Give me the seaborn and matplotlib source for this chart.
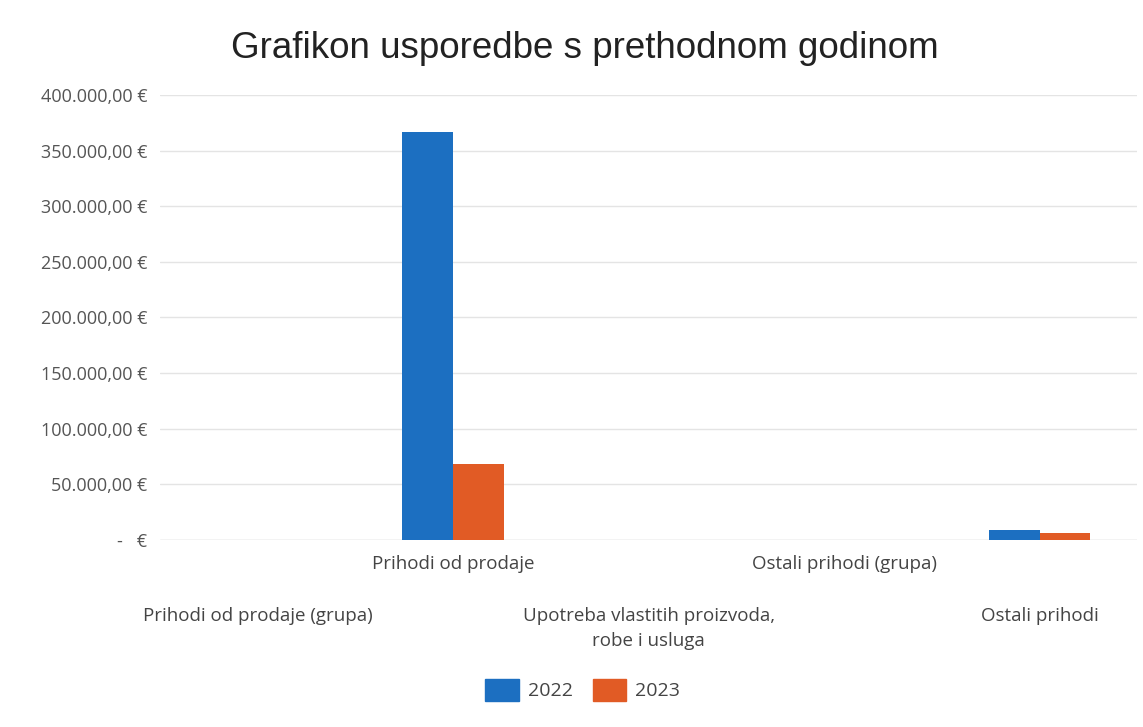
import pandas as pd
import matplotlib.pyplot as plt
import seaborn as sns

# values (EUR)
categories = [
    "Prihodi od prodaje (grupa)",
    "Prihodi od prodaje",
    "Upotreba vlastitih proizvoda,\nrobe i usluga",
    "Ostali prihodi (grupa)",
    "Ostali prihodi",
]
years = ["2022", "2023"]
values_2022 = [0, 367000, 0, 0, 8500]
values_2023 = [0, 68500, 0, 0, 6500]
y_ticks = [0, 50000, 100000, 150000, 200000, 250000, 300000, 350000, 400000]

df = pd.DataFrame({
    "kategorija": categories * 2,
    "godina": [years[0]] * len(categories) + [years[1]] * len(categories),
    "iznos": values_2022 + values_2023,
})

def eur(v):
    if v == 0:
        return "-   €"
    s = f"{v:,.2f}"
    s = s.replace(",", "X").replace(".", ",").replace("X", ".")
    return s + " €"

sns.set_style("white")
plt.rcParams["font.family"] = ["Open Sans", "DejaVu Sans"]

fig = plt.figure(figsize=(11.43, 7.27), dpi=100)
ax = fig.add_axes([0.14, 0.2573, 0.855, 0.612])

palette = {"2022": "#1c6fc1", "2023": "#e15b25"}
sns.barplot(data=df, x="kategorija", y="iznos", hue="godina", palette=palette,
            width=0.52, saturation=1, linewidth=0, ax=ax, legend=False)

ax.set_ylim(0, 400000)
ax.set_yticks(y_ticks)
ax.set_yticklabels([eur(v) for v in y_ticks], color="#555555", fontsize=13)
ax.tick_params(axis="y", length=0, pad=9)
ax.grid(axis="y", color="#e4e4e4", linewidth=1)
ax.set_axisbelow(True)
for sp in ax.spines.values():
    sp.set_visible(False)
ax.axhline(0, color="#d9d9d9", linewidth=1, zorder=0)

ax.set_xlabel("")
ax.set_ylabel("")
ax.set_xticks(range(len(categories)))
ax.set_xticklabels([])
ax.tick_params(axis="x", length=0)

# staggered category labels, like the spreadsheet chart
trans = ax.get_xaxis_transform()
for i, cat in enumerate(categories):
    off = -15 if i % 2 == 1 else -67
    ax.annotate(cat, xy=(i, 0), xycoords=trans, xytext=(0, off),
                textcoords="offset pixels", ha="center", va="top",
                fontsize=13.5, color="#444444", linespacing=1.5)

fig.text(0.512, 0.933, "Grafikon usporedbe s prethodnom godinom",
         ha="center", va="center", fontsize=26.5, color="#222222",
         family=["Liberation Sans", "DejaVu Sans"])

handles = [plt.Rectangle((0, 0), 1, 1, color=palette[y]) for y in years]
fig.legend(handles, years, loc="center", bbox_to_anchor=(0.51, 0.051), ncol=2,
           frameon=False, fontsize=14, handlelength=1.7, handleheight=1.3,
           columnspacing=1.0, handletextpad=0.5, labelcolor="#444444")

fig.savefig("out.png", dpi=100, facecolor="white")
